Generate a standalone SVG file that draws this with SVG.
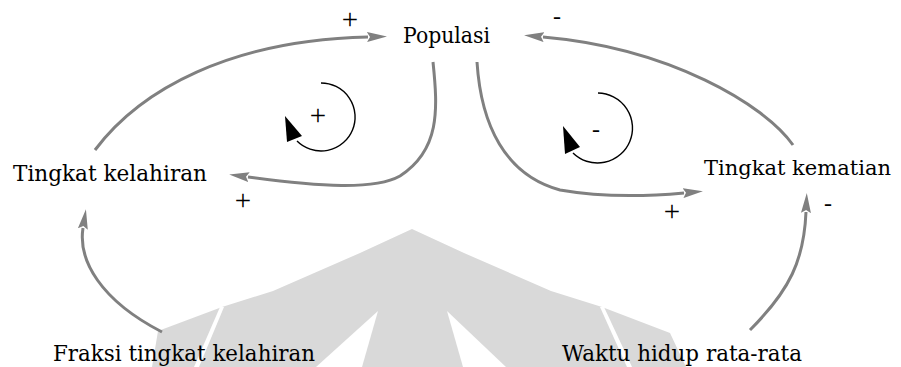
<svg xmlns="http://www.w3.org/2000/svg" width="901" height="367" viewBox="0 0 901 367">
<style>
.lbl{font-family:"DejaVu Serif","Liberation Serif",serif;font-size:23px;fill:#000}
.sgn{font-family:"Liberation Serif","DejaVu Serif",serif;font-size:24px;fill:#000;text-anchor:middle}
.pls{font-family:"Liberation Serif","DejaVu Serif",serif;font-size:29px;fill:#000;text-anchor:middle}
.link{fill:none;stroke:#808080;stroke-width:3;marker-end:url(#ah)}
.loop{fill:none;stroke:#000;stroke-width:1.4}
.wm{fill:#d9d9d9}
.cut{fill:#fff}
</style>
<defs>
<marker id="ah" markerWidth="20" markerHeight="10" refX="1" refY="5" orient="auto" markerUnits="userSpaceOnUse">
<path d="M0,0 L20,5 L0,10 L3,5 z" fill="#808080"/>
</marker>
</defs>
<rect width="901" height="367" fill="#fff"/>
<g id="watermark">
<path class="wm" d="M152,367 L158,331 L222,307 L273,291 L360,253 L412,229 L464,253 L551,291 L602,307 L670,333 L686,367 Z"/>
<path class="cut" d="M220,307 L224,307 L199,367 L194,367 Z"/>
<path class="cut" d="M600,307 L604,307 L632,367 L627,367 Z"/>
<path class="cut" d="M378,311 L362,367 L316,367 Z"/>
<path class="cut" d="M447,311 L463,367 L506,367 Z"/>
</g>
<g id="connectors">
<path class="link" d="M95,150 C140,90 230,40 368,37"/>
<path class="link" d="M433,62 C438,110 440,150 400,176 C375,190 320,187 248,177"/>
<path class="link" d="M477,62 C481,125 505,175 560,190 C600,197 640,197 684,193"/>
<path class="link" d="M793,145 C765,105 670,48 543,37"/>
<path class="link" d="M162,332 C100,300 78,260 83,228"/>
<path class="link" d="M750,330 C790,290 804,260 806,212"/>
</g>
<g id="loop-r">
<path class="loop" d="M321,83 A34,34 0 1 1 297,141"/>
<path d="M285,116 L302,136 L287,142 Z" fill="#000"/>
<text class="pls" x="318" y="125">+</text>
</g>
<g id="loop-b">
<path class="loop" d="M598,93 A35,35 0 1 1 573,153"/>
<path d="M563,126 L580,147 L565,154 Z" fill="#000"/>
<text class="sgn" x="596" y="137">-</text>
</g>
<g id="populasi"><text class="lbl" x="403" y="43" textLength="87" lengthAdjust="spacingAndGlyphs">Populasi</text></g>
<g id="tingkat-kelahiran"><text class="lbl" x="13" y="181" textLength="194" lengthAdjust="spacingAndGlyphs">Tingkat kelahiran</text></g>
<g id="tingkat-kematian"><text class="lbl" x="704" y="175" style="font-size:21px" textLength="187" lengthAdjust="spacingAndGlyphs">Tingkat kematian</text></g>
<g id="fraksi"><text class="lbl" x="53" y="361" textLength="262" lengthAdjust="spacingAndGlyphs">Fraksi tingkat kelahiran</text></g>
<g id="waktu"><text class="lbl" x="562" y="361" textLength="240" lengthAdjust="spacingAndGlyphs">Waktu hidup rata-rata</text></g>
<g id="signs">
<text class="pls" x="350" y="29">+</text>
<text class="sgn" x="557" y="24">-</text>
<text class="pls" x="243" y="210">+</text>
<text class="pls" x="672" y="221">+</text>
<text class="sgn" x="828" y="211">-</text>
</g>
</svg>
